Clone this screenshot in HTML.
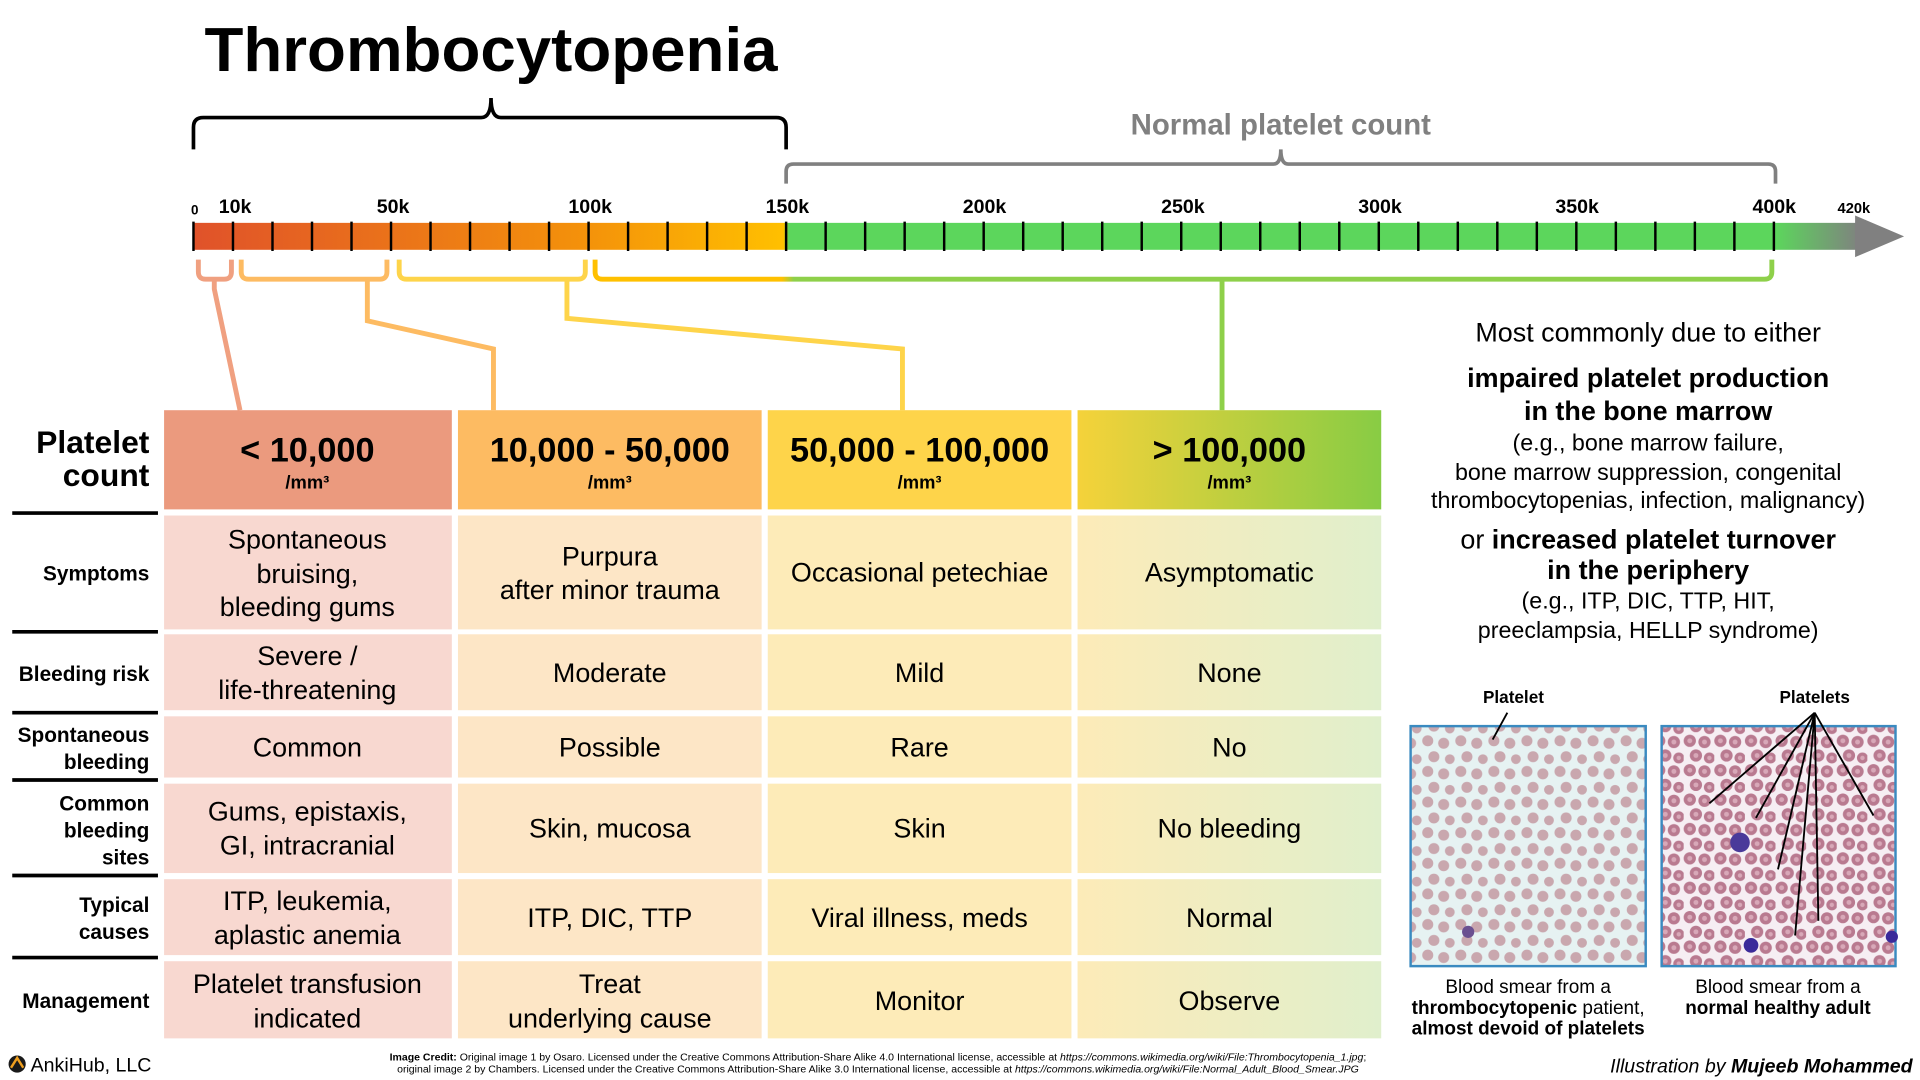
<!DOCTYPE html>
<html><head><meta charset="utf-8"><style>
html,body{margin:0;padding:0;background:#fff;}
svg{display:block;}
text{font-family:"Liberation Sans",Arial,sans-serif;}
</style></head><body>
<svg width="1920" height="1080" viewBox="0 0 1568 882" xmlns="http://www.w3.org/2000/svg">
<defs>
<linearGradient id="bar" x1="158" x2="1555" y1="0" y2="0" gradientUnits="userSpaceOnUse">
<stop offset="0" stop-color="#e0522a"/>
<stop offset="0.23" stop-color="#f4920a"/>
<stop offset="0.345" stop-color="#ffc000"/>
<stop offset="0.348" stop-color="#5cd65c"/>
<stop offset="0.925" stop-color="#5cd65c"/>
<stop offset="0.975" stop-color="#808080"/>
<stop offset="1" stop-color="#808080"/>
</linearGradient>
<linearGradient id="h4" x1="0" x2="1"><stop offset="0" stop-color="#f5d23a"/><stop offset="1" stop-color="#88cc44"/></linearGradient>
<linearGradient id="b4" x1="0" x2="1"><stop offset="0" stop-color="#fdebb8"/><stop offset="1" stop-color="#e0efcc"/></linearGradient>
<linearGradient id="br4" x1="484" x2="1450" gradientUnits="userSpaceOnUse"><stop offset="0" stop-color="#ffc000"/><stop offset="0.16" stop-color="#ffc000"/><stop offset="0.17" stop-color="#8ed04a"/><stop offset="1" stop-color="#8ed04a"/></linearGradient>
<pattern id="s1" width="27" height="25" patternUnits="userSpaceOnUse">
<rect width="27" height="25" fill="#e6f2f2"/>
<circle cx="5" cy="5" r="4.5" fill="#c9a7ae"/><circle cx="18" cy="7" r="4.5" fill="#c9a7ae"/><circle cx="10" cy="18" r="4.5" fill="#c9a7ae"/><circle cx="23" cy="20" r="4" fill="#c9a7ae"/>
</pattern>
<pattern id="s2" width="25" height="24" patternUnits="userSpaceOnUse">
<rect width="25" height="24" fill="#f6eef3"/>
<circle cx="5" cy="5" r="5" fill="#b97a90"/><circle cx="17" cy="6" r="5" fill="#b97a90"/><circle cx="10" cy="17" r="5" fill="#b97a90"/><circle cx="21" cy="19" r="4.5" fill="#b97a90"/>
<circle cx="5" cy="5" r="2" fill="#d8a8b8"/><circle cx="17" cy="6" r="2" fill="#d8a8b8"/><circle cx="10" cy="17" r="2" fill="#d8a8b8"/><circle cx="21" cy="19" r="1.8" fill="#d8a8b8"/>
</pattern>
</defs>

<text x="401" y="58" font-size="51" font-weight="bold" text-anchor="middle" textLength="468" lengthAdjust="spacingAndGlyphs">Thrombocytopenia</text>
<path d="M158,122 V104 Q158,96 166,96 H393 Q401,96 401,80 Q401,96 409,96 H634 Q642,96 642,104 V122" fill="none" stroke="#000" stroke-width="3"/>
<text x="1046" y="110" font-size="24" font-weight="bold" fill="#808080" text-anchor="middle">Normal platelet count</text>
<path d="M642,150 V140 Q642,134 648,134 H1040 Q1046,134 1046,122 Q1046,134 1052,134 H1444 Q1450,134 1450,140 V150" fill="none" stroke="#808080" stroke-width="3"/>

<rect x="158" y="182" width="1360" height="22" fill="url(#bar)"/>
<polygon points="1515,176 1555,193 1515,210" fill="#808080"/>
<line x1="157" y1="193" x2="1452" y2="193" stroke="#000" stroke-width="24" stroke-dasharray="2 30.267"/>

<g font-size="16" font-weight="bold" text-anchor="middle">
<text x="159" y="175" font-size="11">0</text>
<text x="192" y="174">10k</text><text x="321" y="174">50k</text><text x="482" y="174">100k</text>
<text x="643" y="174">150k</text><text x="804" y="174">200k</text><text x="966" y="174">250k</text>
<text x="1127" y="174">300k</text><text x="1288" y="174">350k</text><text x="1449" y="174">400k</text>
<text x="1514" y="174" font-size="12">420k</text>
</g>

<g fill="none" stroke-width="4">
<path d="M162,212 V222 Q162,228 168,228 H183 Q189,228 189,222 V212" stroke="#f0a080"/>
<path d="M175,228 V236 L196,335" stroke="#f0a080"/>
<path d="M197,212 V222 Q197,228 203,228 H310 Q316,228 316,222 V212" stroke="#fdbb62"/>
<path d="M300,228 V262 L403,285 V335" stroke="#fdbb62"/>
<path d="M326,212 V222 Q326,228 332,228 H472 Q478,228 478,222 V212" stroke="#fed44a"/>
<path d="M463,228 V260 L737,285 V335" stroke="#fed44a"/>
<path d="M486,212 V222 Q486,228 492,228 H1441 Q1447,228 1447,222 V212" stroke="url(#br4)"/>
<path d="M998,228 V335" stroke="#8ed04a"/>
</g>

<rect x="134" y="335" width="235" height="81" fill="#eb9a7e"/>
<rect x="374" y="335" width="248" height="81" fill="#fdbb62"/>
<rect x="627" y="335" width="248" height="81" fill="#fed44a"/>
<rect x="880" y="335" width="248" height="81" fill="url(#h4)"/>
<g font-weight="bold" text-anchor="middle">
<text x="251" y="377" font-size="28">&lt; 10,000</text><text x="251" y="399" font-size="15">/mm³</text>
<text x="498" y="377" font-size="28">10,000 - 50,000</text><text x="498" y="399" font-size="15">/mm³</text>
<text x="751" y="377" font-size="28">50,000 - 100,000</text><text x="751" y="399" font-size="15">/mm³</text>
<text x="1004" y="377" font-size="28">&gt; 100,000</text><text x="1004" y="399" font-size="15">/mm³</text>
</g>
<g font-weight="bold" text-anchor="end">
<text x="122" y="370" font-size="26">Platelet</text><text x="122" y="397" font-size="26">count</text>
</g>

<g>
<rect x="134" y="421" width="235" height="93" fill="#f8d8d0"/><rect x="374" y="421" width="248" height="93" fill="#fde6c6"/><rect x="627" y="421" width="248" height="93" fill="#fdebb8"/><rect x="880" y="421" width="248" height="93" fill="url(#b4)"/>
<rect x="134" y="518" width="235" height="62" fill="#f8d8d0"/><rect x="374" y="518" width="248" height="62" fill="#fde6c6"/><rect x="627" y="518" width="248" height="62" fill="#fdebb8"/><rect x="880" y="518" width="248" height="62" fill="url(#b4)"/>
<rect x="134" y="585" width="235" height="50" fill="#f8d8d0"/><rect x="374" y="585" width="248" height="50" fill="#fde6c6"/><rect x="627" y="585" width="248" height="50" fill="#fdebb8"/><rect x="880" y="585" width="248" height="50" fill="url(#b4)"/>
<rect x="134" y="640" width="235" height="73" fill="#f8d8d0"/><rect x="374" y="640" width="248" height="73" fill="#fde6c6"/><rect x="627" y="640" width="248" height="73" fill="#fdebb8"/><rect x="880" y="640" width="248" height="73" fill="url(#b4)"/>
<rect x="134" y="718" width="235" height="62" fill="#f8d8d0"/><rect x="374" y="718" width="248" height="62" fill="#fde6c6"/><rect x="627" y="718" width="248" height="62" fill="#fdebb8"/><rect x="880" y="718" width="248" height="62" fill="url(#b4)"/>
<rect x="134" y="785" width="235" height="63" fill="#f8d8d0"/><rect x="374" y="785" width="248" height="63" fill="#fde6c6"/><rect x="627" y="785" width="248" height="63" fill="#fdebb8"/><rect x="880" y="785" width="248" height="63" fill="url(#b4)"/>
</g>
<g stroke="#000" stroke-width="3">
<line x1="10" y1="419" x2="129" y2="419"/><line x1="10" y1="516" x2="129" y2="516"/><line x1="10" y1="582" x2="129" y2="582"/>
<line x1="10" y1="637" x2="129" y2="637"/><line x1="10" y1="715" x2="129" y2="715"/><line x1="10" y1="782" x2="129" y2="782"/>
</g>
<g font-size="17" font-weight="bold" text-anchor="end">
<text x="122" y="474">Symptoms</text>
<text x="122" y="556">Bleeding risk</text>
<text x="122" y="606">Spontaneous</text><text x="122" y="628">bleeding</text>
<text x="122" y="662">Common</text><text x="122" y="684">bleeding</text><text x="122" y="706">sites</text>
<text x="122" y="745">Typical</text><text x="122" y="767">causes</text>
<text x="122" y="823">Management</text>
</g>
<g font-size="22" text-anchor="middle">
<text x="251" y="448">Spontaneous</text><text x="251" y="476">bruising,</text><text x="251" y="503">bleeding gums</text>
<text x="498" y="462">Purpura</text><text x="498" y="489">after minor trauma</text>
<text x="751" y="475">Occasional petechiae</text>
<text x="1004" y="475">Asymptomatic</text>
<text x="251" y="543">Severe /</text><text x="251" y="571">life-threatening</text>
<text x="498" y="557">Moderate</text><text x="751" y="557">Mild</text><text x="1004" y="557">None</text>
<text x="251" y="618">Common</text><text x="498" y="618">Possible</text><text x="751" y="618">Rare</text><text x="1004" y="618">No</text>
<text x="251" y="670">Gums, epistaxis,</text><text x="251" y="698">GI, intracranial</text>
<text x="498" y="684">Skin, mucosa</text><text x="751" y="684">Skin</text><text x="1004" y="684">No bleeding</text>
<text x="251" y="743">ITP, leukemia,</text><text x="251" y="771">aplastic anemia</text>
<text x="498" y="757">ITP, DIC, TTP</text><text x="751" y="757">Viral illness, meds</text><text x="1004" y="757">Normal</text>
<text x="251" y="811">Platelet transfusion</text><text x="251" y="839">indicated</text>
<text x="498" y="811">Treat</text><text x="498" y="839">underlying cause</text>
<text x="751" y="825">Monitor</text><text x="1004" y="825">Observe</text>
</g>

<g text-anchor="middle">
<text x="1346" y="279" font-size="22">Most commonly due to either</text>
<text x="1346" y="316" font-size="22" font-weight="bold">impaired platelet production</text>
<text x="1346" y="343" font-size="22" font-weight="bold">in the bone marrow</text>
<text x="1346" y="368" font-size="19">(e.g., bone marrow failure,</text>
<text x="1346" y="392" font-size="19">bone marrow suppression, congenital</text>
<text x="1346" y="415" font-size="19">thrombocytopenias, infection, malignancy)</text>
<text x="1346" y="448" font-size="22"><tspan>or </tspan><tspan font-weight="bold">increased platelet turnover</tspan></text>
<text x="1346" y="473" font-size="22" font-weight="bold">in the periphery</text>
<text x="1346" y="497" font-size="19">(e.g., ITP, DIC, TTP, HIT,</text>
<text x="1346" y="521" font-size="19">preeclampsia, HELLP syndrome)</text>
</g>

<rect x="1152" y="593" width="192" height="196" fill="url(#s1)" stroke="#3a8ac0" stroke-width="2"/>
<circle cx="1199" cy="761" r="5" fill="#6a5090"/>
<rect x="1357" y="593" width="191" height="196" fill="url(#s2)" stroke="#3a8ac0" stroke-width="2"/>
<circle cx="1421" cy="688" r="8" fill="#4a3a9a"/><circle cx="1430" cy="772" r="6" fill="#3a2a9a"/><circle cx="1545" cy="765" r="5" fill="#3a2a9a"/>
<text x="1236" y="574" font-size="14" font-weight="bold" text-anchor="middle">Platelet</text>
<line x1="1231" y1="582" x2="1219" y2="604" stroke="#000" stroke-width="1.5"/>
<text x="1482" y="574" font-size="14" font-weight="bold" text-anchor="middle">Platelets</text>
<g stroke="#000" stroke-width="1.5">
<line x1="1482" y1="582" x2="1396" y2="656"/><line x1="1482" y1="582" x2="1434" y2="668"/>
<line x1="1482" y1="582" x2="1452" y2="710"/><line x1="1482" y1="582" x2="1466" y2="764"/>
<line x1="1482" y1="582" x2="1485" y2="752"/><line x1="1482" y1="582" x2="1530" y2="666"/>
</g>
<g font-size="15.5" text-anchor="middle">
<text x="1248" y="811">Blood smear from a</text>
<text x="1248" y="828"><tspan font-weight="bold">thrombocytopenic</tspan> patient,</text>
<text x="1248" y="845" font-weight="bold">almost devoid of platelets</text>
<text x="1452" y="811">Blood smear from a</text>
<text x="1452" y="828" font-weight="bold">normal healthy adult</text>
</g>

<circle cx="14" cy="869" r="7" fill="#1a1a1a"/><path d="M9,872 L14,864 L19,872" fill="none" stroke="#f0a020" stroke-width="2"/>
<text x="25" y="875" font-size="16">AnkiHub, LLC</text>
<g font-size="8.6" text-anchor="middle">
<text x="717" y="866"><tspan font-weight="bold">Image Credit:</tspan> Original image 1 by Osaro. Licensed under the Creative Commons Attribution-Share Alike 4.0 International license, accessible at <tspan font-style="italic">https://commons.wikimedia.org/wiki/File:Thrombocytopenia_1.jpg</tspan>;</text>
<text x="717" y="876">original image 2 by Chambers. Licensed under the Creative Commons Attribution-Share Alike 3.0 International license, accessible at <tspan font-style="italic">https://commons.wikimedia.org/wiki/File:Normal_Adult_Blood_Smear.JPG</tspan></text>
</g>
<text x="1562" y="876" font-size="16" font-style="italic" text-anchor="end">Illustration by <tspan font-weight="bold">Mujeeb Mohammed</tspan></text>
</svg>
</body></html>
